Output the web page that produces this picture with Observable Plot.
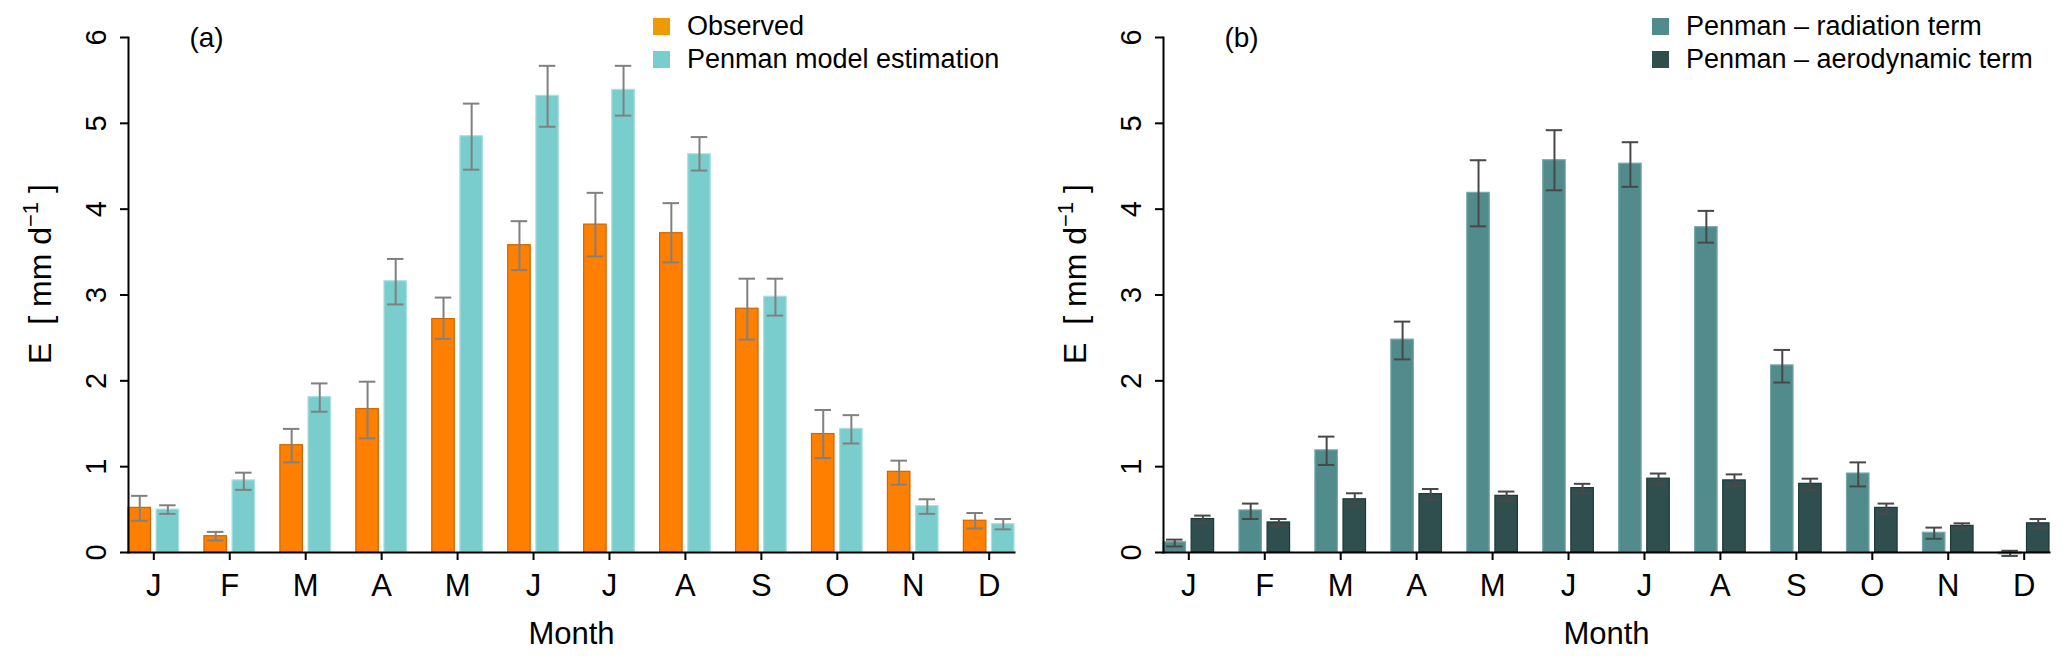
<!DOCTYPE html>
<html><head><meta charset="utf-8">
<script src="https://cdn.jsdelivr.net/npm/d3@7"></script>
<script src="https://cdn.jsdelivr.net/npm/@observablehq/plot@0.6"></script>
<style>
body{margin:0;background:#fff;}
#wrap{position:relative;width:2067px;height:663px;font-family:"Liberation Sans",Arial,Helvetica,sans-serif;background:#fff;overflow:hidden;}
.panel{position:absolute;top:0;}
.legend{position:absolute;top:10px;font-size:27px;color:#000;line-height:1;}
.legend .row{display:flex;align-items:center;height:33px;white-space:nowrap;}
.legend .sw{width:17px;height:17px;margin-right:17px;flex:none;}
</style></head><body><div id="wrap"></div>
<script>
// ---------- data ----------
const months = ["Jan","Feb","Mar","Apr","May","Jun","Jul","Aug","Sep","Oct","Nov","Dec"];
const monthLabels = ["J","F","M","A","M","J","J","A","S","O","N","D"];
const yTicks = [0,1,2,3,4,5,6];

const observed   = [0.52,0.19,1.25,1.67,2.72,3.58,3.82,3.72,2.84,1.38,0.94,0.37];
const observedLo = [0.37,0.14,1.05,1.33,2.49,3.29,3.45,3.38,2.48,1.10,0.79,0.28];
const observedHi = [0.66,0.24,1.44,1.99,2.97,3.86,4.19,4.07,3.19,1.66,1.07,0.46];

const penman   = [0.50,0.84,1.81,3.16,4.85,5.32,5.39,4.64,2.98,1.44,0.54,0.33];
const penmanLo = [0.45,0.73,1.64,2.89,4.46,4.96,5.09,4.45,2.76,1.27,0.45,0.27];
const penmanHi = [0.55,0.93,1.97,3.42,5.23,5.67,5.67,4.84,3.19,1.60,0.62,0.39];

const radiation   = [0.12,0.49,1.19,2.48,4.19,4.57,4.53,3.79,2.18,0.92,0.23,-0.02];
const radiationLo = [0.07,0.39,1.02,2.25,3.80,4.22,4.26,3.61,1.98,0.77,0.16,-0.04];
const radiationHi = [0.15,0.57,1.35,2.69,4.57,4.92,4.78,3.98,2.36,1.05,0.29,0.02];

const aerodynamic   = [0.39,0.35,0.62,0.68,0.66,0.75,0.86,0.84,0.80,0.52,0.31,0.34];
const aerodynamicLo = [0.34,0.30,0.55,0.61,0.60,0.69,0.79,0.77,0.73,0.45,0.27,0.28];
const aerodynamicHi = [0.43,0.39,0.69,0.74,0.71,0.80,0.92,0.91,0.86,0.57,0.34,0.39];

const panelA = {
  tag: "(a)",
  series: ["Observed", "Penman model estimation"],
  values: [observed, penman], lo: [observedLo, penmanLo], hi: [observedHi, penmanHi],
  fills: ["#FF7F00", "#79CDCD"], strokes: ["#CD6600", "#A9E0E0"],
  swatches: ["#EE9A00", "#79CDCD"], err: "#808080"
};
const panelB = {
  tag: "(b)",
  series: ["Penman \u2013 radiation term", "Penman \u2013 aerodynamic term"],
  values: [radiation, aerodynamic], lo: [radiationLo, aerodynamicLo], hi: [radiationHi, aerodynamicHi],
  fills: ["#528B8B", "#2F4F4F"], strokes: ["#78A9A9", "#213838"],
  swatches: ["#528B8B", "#2F4F4F"], err: "#484848"
};

const FONT = "Liberation Sans, Arial, Helvetica, sans-serif";

function rowsFor(p, k) {
  return months.map((m, i) => ({month: m, series: p.series[k], value: p.values[k][i], lo: p.lo[k][i], hi: p.hi[k][i]}));
}

function makePanel(p, width, marginRight) {
  const r0 = rowsFor(p, 0), r1 = rowsFor(p, 1), all = r0.concat(r1);
  const tickRows = yTicks.map(v => ({month: months[0], v}));
  const chart = Plot.plot({
    width, height: 663,
    marginLeft: 128, marginRight, marginTop: 37, marginBottom: 111,
    style: {fontFamily: FONT, fontSize: "30px", color: "#000", background: "transparent", overflow: "visible"},
    fx: {domain: months, paddingInner: 1/3, paddingOuter: 0, round: false, label: null},
    x: {domain: p.series, paddingInner: 0.2, paddingOuter: 0, round: false, axis: null},
    y: {domain: [0, 6], label: null},
    marks: [
      Plot.barY(r0, {fx: "month", x: "series", y: "value", fill: p.fills[0], stroke: p.strokes[0], strokeWidth: 1.2}),
      Plot.barY(r1, {fx: "month", x: "series", y: "value", fill: p.fills[1], stroke: p.strokes[1], strokeWidth: 1.2}),
      Plot.ruleX(all, {fx: "month", x: "series", y1: "lo", y2: "hi", stroke: p.err, strokeWidth: 2}),
      Plot.tickY(all, {fx: "month", x: "series", y: "hi", stroke: p.err, strokeWidth: 2, insetLeft: 3, insetRight: 3}),
      Plot.tickY(all, {fx: "month", x: "series", y: "lo", stroke: p.err, strokeWidth: 2, insetLeft: 3, insetRight: 3}),
      Plot.frame({anchor: "bottom", facet: "super", stroke: "#000", strokeWidth: 2}),
      Plot.frame({anchor: "left", facet: "super", stroke: "#000", strokeWidth: 2}),
      Plot.axisY({ticks: yTicks, tickSize: 8, tickFormat: () => "", label: null, strokeWidth: 2}),
      Plot.text(tickRows, {fx: "month", y: "v", text: d => String(d.v), frameAnchor: "left", dx: -32, rotate: -90,
                           textAnchor: "middle", lineAnchor: "middle", fontSize: 29, fill: "#000"}),
      Plot.axisFx({anchor: "bottom", tickSize: 8, tickPadding: 13, fontSize: 31, strokeWidth: 2, label: null,
                   tickFormat: d => monthLabels[months.indexOf(d)]}),
      Plot.text(["Month"], {facet: "super", text: d => d, frameAnchor: "bottom", dy: 82, lineAnchor: "middle", fontSize: 31, fill: "#000"}),
      Plot.text([p.tag], {facet: "super", text: d => d, frameAnchor: "top-left", dx: 78, dy: 1, textAnchor: "middle", lineAnchor: "middle", fontSize: 28, fill: "#000"}),
      Plot.text(["E [ mm d-1 ]"], {facet: "super", text: d => d, frameAnchor: "left", dx: -88, dy: -21, rotate: -90,
                                   textAnchor: "middle", lineAnchor: "middle", fontSize: 32, fill: "#000"})
    ]
  });
  // superscript in the y-axis title
  chart.querySelectorAll("text").forEach(t => {
    if (t.textContent === "E [ mm d-1 ]") {
      const ns = "http://www.w3.org/2000/svg";
      t.textContent = "";
      t.setAttribute("text-anchor", "middle");
      const a = document.createElementNS(ns, "tspan"); a.textContent = "E  [ mm d"; t.appendChild(a);
      const b = document.createElementNS(ns, "tspan"); b.textContent = "\u22121"; b.setAttribute("dy", "-13"); b.setAttribute("font-size", "22"); t.appendChild(b);
      const c = document.createElementNS(ns, "tspan"); c.textContent = " ]"; c.setAttribute("dy", "13"); t.appendChild(c);
    }
  });
  return chart;
}

function makeLegend(p, left) {
  const div = document.createElement("div");
  div.className = "legend";
  div.style.left = left + "px";
  p.series.forEach((s, k) => {
    const row = document.createElement("div"); row.className = "row";
    const sw = document.createElement("div"); sw.className = "sw"; sw.style.background = p.swatches[k];
    const tx = document.createElement("span"); tx.textContent = s;
    row.appendChild(sw); row.appendChild(tx); div.appendChild(row);
  });
  return div;
}

const wrap = document.getElementById("wrap");
const a = makePanel(panelA, 1035, 21);
const pa = document.createElement("div"); pa.className = "panel"; pa.style.left = "0px"; pa.appendChild(a); wrap.appendChild(pa);
const b = makePanel(panelB, 1032, 18);
const pb = document.createElement("div"); pb.className = "panel"; pb.style.left = "1035px"; pb.appendChild(b); wrap.appendChild(pb);
wrap.appendChild(makeLegend(panelA, 653));
wrap.appendChild(makeLegend(panelB, 1652));
</script>
</body></html>
